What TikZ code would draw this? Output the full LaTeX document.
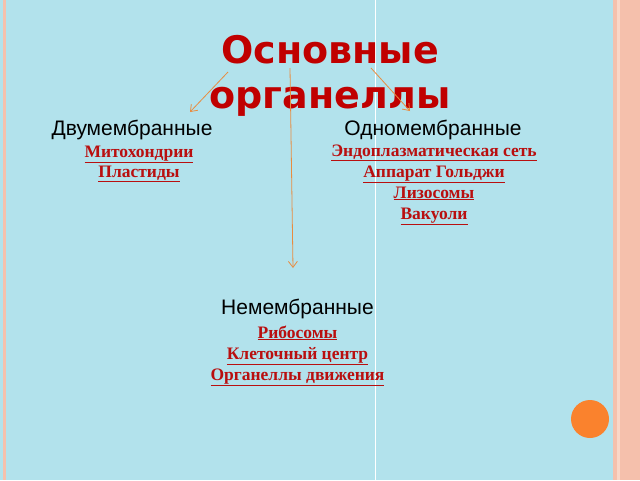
\documentclass[tikz,border=0pt]{standalone}
\usepackage{fontspec}
\setmainfont{Liberation Serif}
\setsansfont{Liberation Sans}
\newfontfamily\titlefont{DejaVu Sans}
\usetikzlibrary{arrows.meta}

\definecolor{waterblue}{RGB}{178,226,236}
\definecolor{salmon}{RGB}{245,192,172}
\definecolor{palesalmon}{RGB}{250,215,200}
\definecolor{titlered}{RGB}{192,0,0}
\definecolor{itemred}{RGB}{185,15,15}
\definecolor{arroworange}{RGB}{232,140,64}
\definecolor{dotorange}{RGB}{250,130,45}

\begin{document}
\begin{tikzpicture}[x=1pt,y=-1pt,
	heading/.style={anchor=base,inner sep=0pt,font=\sffamily\fontsize{21}{24}\selectfont},
	member/.style={anchor=base,inner sep=0pt,text=itemred,font=\rmfamily\bfseries\fontsize{17.5}{20}\selectfont},
	link/.style={draw=arroworange,line width=0.8pt,-{Straight Barb[length=6pt,width=9pt]}}]
	\useasboundingbox (0,0) rectangle (640,480);
	% draw background
	\fill[waterblue] (0,0) rectangle (640,480);
	\fill[salmon] (2.5,0) rectangle (6,480);
	\fill[salmon] (613,0) rectangle (640,480);
	\fill[palesalmon] (617,0) rectangle (620,480);
	\draw[white,line width=1pt] (375,0) -- (375,480);
	\fill[dotorange] (590,419) circle (19);
	% title
	\node[anchor=base,inner sep=0pt,align=center,text=titlered,
		font=\titlefont\bfseries\fontsize{38}{45}\selectfont] (title) at (330,108) {Основные\\органеллы};
	% headings
	\node[heading] (twomem) at (132,135) {Двумембранные};
	\node[heading] (onemem) at (433,135) {Одномембранные};
	\node[heading] (nonmem) at (297.5,314) {Немембранные};
	% organelles
	\foreach \t [count=\i] in {Митохондрии,Пластиды}
	\node[member] (two\i) at (139,157+20*\i-20) {\underline{\t}};
	\foreach \t [count=\i] in {Эндоплазматическая сеть,Аппарат Гольджи,Лизосомы,Вакуоли}
	\node[member] (one\i) at (434,156+21*\i-21) {\underline{\t}};
	\foreach \t [count=\i] in {Рибосомы,Клеточный центр,Органеллы движения}
	\node[member] (non\i) at (297.5,338+21*\i-21) {\underline{\t}};
	% arrows
	\coordinate (fromtwo) at (228,72);
	\coordinate (totwo) at (190,112);
	\coordinate (fromnon) at (290,68);
	\coordinate (tonon) at (293,268);
	\coordinate (fromone) at (371,68);
	\coordinate (toone) at (410,111);
	\draw[link] (fromtwo) -- (totwo);
	\draw[link] (fromnon) -- (tonon);
	\draw[link] (fromone) -- (toone);
\end{tikzpicture}
\end{document}
